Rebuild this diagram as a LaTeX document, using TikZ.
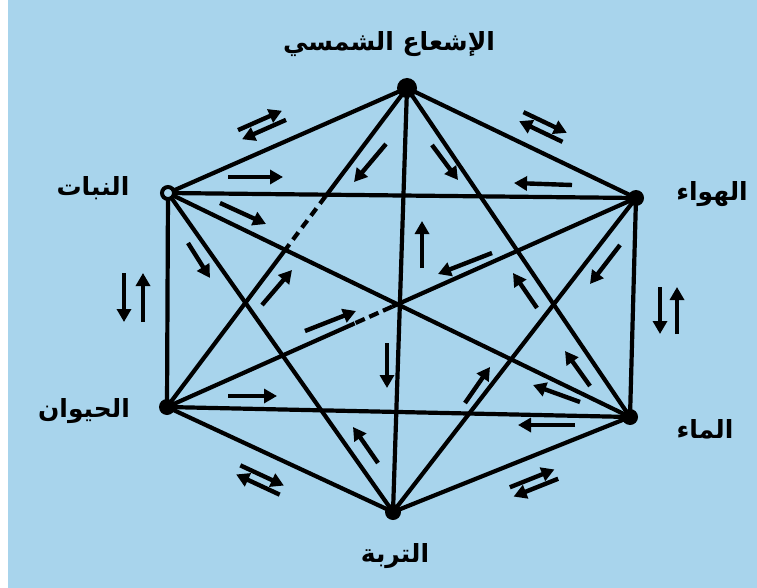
\documentclass[tikz,border=0pt]{standalone}
\usepackage{fontspec}
\usetikzlibrary{arrows.meta,calc}
\TeXXeTstate=1
\newfontfamily\arabicfont[Script=Arabic]{DejaVu Sans}
\definecolor{bgblue}{RGB}{168,212,236}
\tikzset{
  edge/.style={line width=4.2pt,black},
  dot/.style={circle,fill=black,inner sep=0pt,minimum size=16pt},
  ring/.style={circle,draw=black,line width=4pt,fill=bgblue,inner sep=0pt,minimum size=12pt},
  arr/.style={line width=4.4pt,-{Triangle[length=13pt,width=14pt]}},
  lbl/.style={font=\arabicfont\bfseries\fontsize{25}{30}\selectfont,inner sep=0pt}
}
\newcommand{\pairarr}[4]{%
  \begin{scope}[shift={(#1,#2)},rotate=#3]
    \draw[arr] (-24,-#4) -- (24,-#4);
    \draw[arr] (24,#4) -- (-24,#4);
  \end{scope}}
\begin{document}
\begin{tikzpicture}[x=1pt,y=-1pt]
\useasboundingbox (0,0) rectangle (757,588);
\fill[white] (0,0) rectangle (757,588);
\fill[bgblue] (8,0) rectangle (757,588);
% vertices
\coordinate (S) at (407,88);
\coordinate (A) at (636,198);
\coordinate (W) at (630,417);
\coordinate (T) at (393,512);
\coordinate (An) at (167,407);
\coordinate (P) at (168,193);
% edges
\draw[edge] (S) -- (A) -- (W) -- (T) -- (An) -- (P) -- (S);
\draw[edge] (P) -- (A);
\draw[edge] (P) -- (W);
\draw[edge] (P) -- (T);
\draw[edge] (S) -- (T);
\draw[edge] (S) -- (W);
\draw[edge] (A) -- (T);
\draw[edge] (W) -- (An);
\draw[edge] (S) -- ($(S)!0.34!(An)$);
\draw[edge,dash pattern=on 9pt off 6pt] ($(S)!0.34!(An)$) -- ($(S)!0.49!(An)$);
\draw[edge] ($(S)!0.49!(An)$) -- (An);
\draw[edge] (A) -- ($(A)!0.52!(An)$);
\draw[edge,dash pattern=on 10pt off 5pt] ($(A)!0.52!(An)$) -- ($(A)!0.60!(An)$);
\draw[edge] ($(A)!0.60!(An)$) -- (An);
% vertex dots
\node[dot,minimum size=20pt] (nS) at (S) {};
\node[dot] (nA) at (A) {};
\node[dot] (nW) at (W) {};
\node[dot] (nT) at (T) {};
\node[dot] (nAn) at (An) {};
\node[ring] (nP) at (P) {};
% labels
\node[lbl] (lS) at (389,44) {\beginR الإشعاع الشمسي\endR};
\node[lbl] (lA) at (712,194) {\beginR الهواء\endR};
\node[lbl] (lW) at (705,429) {\beginR الماء\endR};
\node[lbl] (lT) at (395,556) {\beginR التربة\endR};
\node[lbl] (lAn) at (84,411) {\beginR الحيوان\endR};
\node[lbl] (lP) at (93,188) {\beginR النبات\endR};
% paired arrows on the hexagon sides
\pairarr{262}{125}{23.8}{5}
\pairarr{543}{127}{-25.5}{5}
\pairarr{534}{483}{21.8}{5}
\pairarr{260}{480}{-24.9}{5}
\draw[arr] (660,287) -- (660,334);
\draw[arr] (677,334) -- (677,287);
\draw[arr] (124,273) -- (124,322);
\draw[arr] (143,322) -- (143,273);
% single arrows
\draw[arr] (228,177) -- (283,177);
\draw[arr] (572,185) -- (514,183);
\draw[arr] (220,203) -- (266,224);
\draw[arr] (580,402) -- (533,385);
\draw[arr] (188,243) -- (210,278);
\draw[arr] (378,463) -- (353,427);
\draw[arr] (386,144) -- (354,182);
\draw[arr] (262,305) -- (292,270);
\draw[arr] (422,268) -- (422,221);
\draw[arr] (387,343) -- (387,388);
\draw[arr] (432,145) -- (458,180);
\draw[arr] (537,308) -- (513,273);
\draw[arr] (590,386) -- (565,351);
\draw[arr] (492,253) -- (438,274);
\draw[arr] (305,331) -- (356,311);
\draw[arr] (620,245) -- (590,284);
\draw[arr] (465,403) -- (490,367);
\draw[arr] (575,425) -- (518,425);
\draw[arr] (228,396) -- (277,396);
\end{tikzpicture}
\end{document}
